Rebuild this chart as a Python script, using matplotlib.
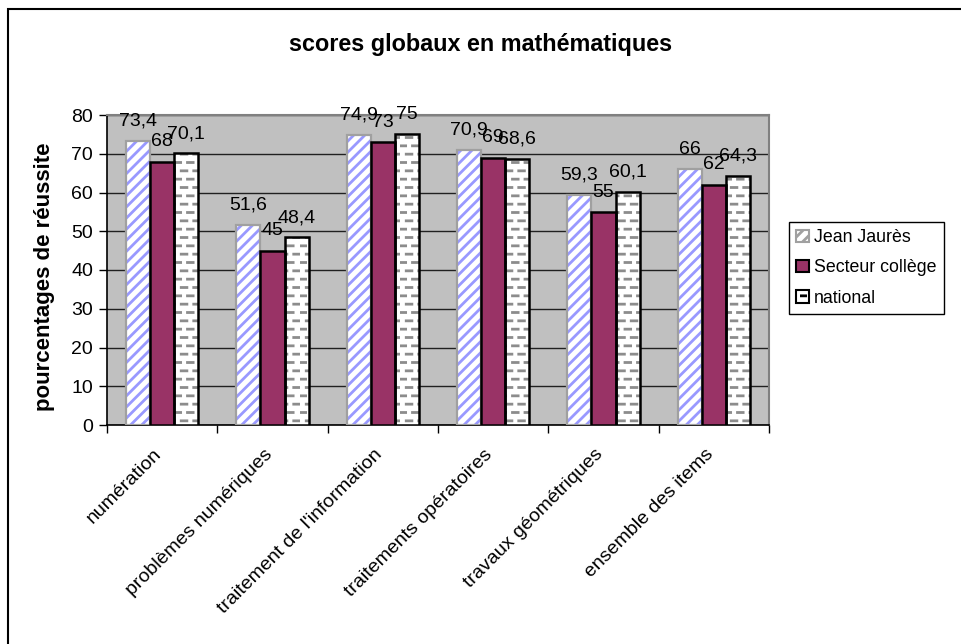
import numpy as np
import matplotlib
matplotlib.use("Agg")
import matplotlib.pyplot as plt
import matplotlib.hatch as mhatch
import matplotlib.transforms as mtrans
from matplotlib.path import Path
from matplotlib.patches import Patch, Rectangle

# ---- custom dashed horizontal hatch (replaces '-') ----
class DashedHorizontalHatch(mhatch.HatchPatternBase):
    def __init__(self, hatch, density):
        self.num_rows = int((hatch.count('-') + hatch.count('+')) * density)
        self.per_row = 8
        self.num_vertices = self.num_rows * self.per_row * 2

    def set_vertices_and_codes(self, vertices, codes):
        rows, step = np.linspace(0.0, 1.0, self.num_rows, False, retstep=True)
        rows += step / 2.0
        period = 1.0 / self.per_row
        dash = period * 0.45
        k = 0
        for i, y in enumerate(rows):
            off = 0.0 if i % 2 == 0 else period / 2.0
            for j in range(self.per_row):
                x0 = (j * period + off) % 1.0
                vertices[k] = (x0, y)
                vertices[k + 1] = (min(x0 + dash, 1.0), y)
                codes[k] = Path.MOVETO
                codes[k + 1] = Path.LINETO
                k += 2

mhatch._hatch_types = [DashedHorizontalHatch if c is mhatch.HorizontalHatch else c
                       for c in mhatch._hatch_types]

plt.rcParams['font.family'] = ['Liberation Sans', 'DejaVu Sans']
plt.rcParams['hatch.linewidth'] = 2.0

categories = ["numération", "problèmes numériques", "traitement de l'information",
              "traitements opératoires", "travaux géométriques", "ensemble des items"]
jean_jaures = [73.4, 51.6, 74.9, 70.9, 59.3, 66]
secteur = [68, 45, 73, 69, 55, 62]
national = [70.1, 48.4, 75, 68.6, 60.1, 64.3]
labels_jj = ["73,4", "51,6", "74,9", "70,9", "59,3", "66"]
labels_sc = ["68", "45", "73", "69", "55", "62"]
labels_na = ["70,1", "48,4", "75", "68,6", "60,1", "64,3"]
series_names = ["Jean Jaurès", "Secteur collège", "national"]
yticks = [0, 10, 20, 30, 40, 50, 60, 70, 80]

W, H = 961, 644
fig = plt.figure(figsize=(W / 100, H / 100), dpi=100)
ax = fig.add_axes([107 / W, 1 - 425 / H, (769 - 107) / W, (425 - 115) / H])
ax.set_facecolor('#C0C0C0')

x = np.arange(len(categories))
bw = 0.218
fs = 14

styles = [
    dict(face='white', hatch='///', hcol='#9999FF', edge='#A0A0A0', lw=1.6),
    dict(face='#993366', hatch=None, hcol='#993366', edge='black', lw=1.8),
    dict(face='white', hatch='--', hcol='#8C8C8C', edge='black', lw=1.8),
]
data = [jean_jaures, secteur, national]
labs = [labels_jj, labels_sc, labels_na]

for i, (vals, st, lb) in enumerate(zip(data, styles, labs)):
    pos = x + (i - 1) * bw
    ax.bar(pos, vals, bw, color=st['face'], hatch=st['hatch'],
           edgecolor=st['hcol'], linewidth=0, zorder=3)
    ax.bar(pos, vals, bw, fill=False, edgecolor=st['edge'],
           linewidth=st['lw'], zorder=4)
    for p, v, t in zip(pos, vals, lb):
        ax.annotate(t, (p, v), xytext=(0, 11), textcoords='offset points',
                    ha='center', va='baseline', fontsize=fs, zorder=5)

ax.set_xlim(-0.5, len(categories) - 0.5)
ax.set_ylim(0, 80)
ax.set_yticks(yticks)
ax.set_yticklabels([str(v) for v in yticks], fontsize=fs)
ax.yaxis.grid(True, color='#202020', linewidth=1.0, zorder=1)
ax.set_axisbelow(True)

ax.set_xticks(np.arange(len(categories) + 1) - 0.5)
ax.set_xticklabels([])
ax.set_xticks(x, minor=True)
ax.set_xticklabels(categories, minor=True, rotation=45, ha='right', va='top',
                   rotation_mode='anchor', fontsize=fs)
ax.tick_params(axis='x', which='minor', length=0, pad=15)
ax.tick_params(axis='x', which='major', length=6, width=1, direction='out')
ax.tick_params(axis='y', length=6, width=1, direction='out', pad=4)
shift = mtrans.ScaledTranslation(-9 / 100, 0, fig.dpi_scale_trans)
for lab in ax.get_xticklabels(minor=True):
    lab.set_transform(lab.get_transform() + shift)

for s in ['left', 'bottom']:
    ax.spines[s].set_color('black')
    ax.spines[s].set_linewidth(1.2)
for s in ['top', 'right']:
    ax.spines[s].set_color('#808080')
    ax.spines[s].set_linewidth(1.5)

ax.set_ylabel("pourcentages de réussite", fontsize=16, fontweight='bold')
ax.yaxis.set_label_coords((45 - 107) / 662, (425 - 277) / 310)
ax.yaxis.label.set_verticalalignment('center')

fig.text(0.5, 1 - 45 / H, "scores globaux en mathématiques", ha='center',
         va='center', fontsize=16.8, fontweight='bold')

handles = []
for n, st in zip(series_names, styles):
    handles.append(Patch(facecolor=st['face'] if st['hatch'] is None else 'white',
                         hatch=st['hatch'], edgecolor=st['edge'], linewidth=1.5,
                         label=n))
leg = fig.legend(handles=handles, loc='upper left',
                 bbox_to_anchor=(789 / W, 1 - 222 / H), fontsize=12.8,
                 frameon=True, fancybox=False, framealpha=1, edgecolor='black',
                 handlelength=0.7, handleheight=0.7, handletextpad=0.3,
                 borderpad=0.4, labelspacing=0.75, borderaxespad=0)
leg.get_frame().set_linewidth(1.0)

fig.patches.append(Rectangle((8 / W, -0.1), 1.2, 1 - 9 / H + 0.1,
                             transform=fig.transFigure, fill=False,
                             edgecolor='black', linewidth=1.5))

fig.savefig('out.png', dpi=100)
